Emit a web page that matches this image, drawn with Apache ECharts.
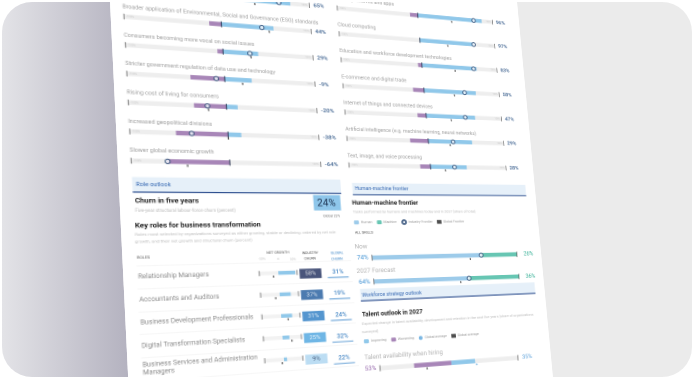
<!DOCTYPE html>
<html><head><meta charset="utf-8">
<script src="https://cdn.jsdelivr.net/npm/echarts@6/dist/echarts.min.js"></script>
<style>
html,body{margin:0;padding:0;background:#fff;width:694px;height:380px;overflow:hidden}
#card{position:absolute;left:2px;top:2px;width:690px;height:375px;border-radius:30px;overflow:hidden;
 background:linear-gradient(90deg,#e3e3e7 0px,#b1afbd 134px,#ebebeb 134px,#ebebeb 100%);}
#page{position:absolute;left:-2px;top:-2px;width:420px;height:420px;background:#fff;transform-origin:0 0;}
</style></head><body>
<div id="card"><div id="page"></div></div>
<script>
// ---------------- DATA ----------------
const trendLabels = ["Broadening digital access",
  "Broader application of Environmental, Social and Governance (ESG) standards",
  "Consumers becoming more vocal on social issues",
  "Stricter government regulation of data use and technology",
  "Rising cost of living for consumers",
  "Increased geopolitical divisions",
  "Slower global economic growth"];
const trendCreated   = [78, 57, 38, 29, 12, 14, 0];
const trendDisplaced = [8, 13, 6, 36, 34, 54, 65];
const trendNet       = [65, 44, 29, -9, -20, -38, -64];
const trendGlobal    = [38, 52, 30, 19, -19, 0, -44];

const techLabels = ["Digital platforms and apps",
  "Cloud computing",
  "Education and workforce development technologies",
  "E-commerce and digital trade",
  "Internet of things and connected devices",
  "Artificial intelligence (e.g. machine learning, neural networks)",
  "Text, image, and voice processing"];
const techAdoption  = [96, 97, 83, 58, 47, 29, 28];
const techCreated   = [85, 71, 72, 68, 64, 57, 47];
const techDisplaced = [10, 0, 5, 14, 11, 23, 13];
const techNet       = [74, 71, 68, 53, 51, 32, 31];
const techGlobal    = [44, 36, 43, 39, 32, 28, 19];

const roles = ["Relationship Managers", "Accountants and Auditors",
  "Business Development Professionals", "Digital Transformation Specialists",
  "Business Services and Administration Managers"];
const roleGrowth       = [45, 29, 29, 18, 8];
const roleGrowthGlobal = [-13, -11, 18, 24, -5];
const industryChurn    = [58, 37, 31, 25, 9];
const globalChurn      = [31, 19, 24, 32, 22];
const churnFiveYears = 24, churnGlobal = 23;

const hmCats     = ["Now", "2027 Forecast"];
const hmHuman    = [74, 64];
const hmMachine  = [26, 36];
const hmIndustry = [74, 64];
const hmGlobal   = [66, 58];

const talentCats       = ["Talent availability when hiring"];
const talentWorsening  = [53];
const talentImproving  = [35];
const talentGlobalWor  = [-35];
const talentGlobalImp  = [37];

// ---------------- PERSPECTIVE ----------------
const PW = 420, PH = 420;
const QUAD = [[108,-40],[517,2],[553,378],[130,415]];
function homography(W,H,q){
  const [x0,y0]=q[0],[x1,y1]=q[1],[x2,y2]=q[2],[x3,y3]=q[3];
  const sx=x0-x1+x2-x3, sy=y0-y1+y2-y3;
  const dx1=x1-x2, dx2=x3-x2, dy1=y1-y2, dy2=y3-y2;
  const det=dx1*dy2-dx2*dy1;
  const g=(sx*dy2-dx2*sy)/det, h=(dx1*sy-sx*dy1)/det;
  return {a:(x1-x0+g*x1)/W, b:(x3-x0+h*x3)/H, c:x0, d:(y1-y0+g*y1)/W, e:(y3-y0+h*y3)/H, f:y0, g:g/W, h:h/H};
}
const M = homography(PW,PH,QUAD);
const pageEl = document.getElementById('page');
pageEl.style.transform = `matrix3d(${M.a},${M.d},0,${M.g},${M.b},${M.e},0,${M.h},0,0,1,0,${M.c},${M.f},0,1)`;
function F(x,y){
  const A=M.a-M.g*x, B=M.b-M.h*x, C=M.d-M.g*y, D=M.e-M.h*y;
  const rx=x-M.c, ry=y-M.f, det=A*D-B*C;
  return [(rx*D-B*ry)/det, (A*ry-C*rx)/det];
}
function band(lA,rA,lB,rB,iA,iB){
  const LA=F(...lA), RA=F(...rA), LB=F(...lB), RB=F(...rB);
  const left=(LA[0]+LB[0])/2, right=(RA[0]+RB[0])/2;
  const yA=(LA[1]+RA[1])/2, yB=(LB[1]+RB[1])/2;
  const pitch=(yB-yA)/(iB-iA);
  return {left, right, pitch, top:yA-(iA+0.5)*pitch};
}

// ---------------- STYLE ----------------
const FONT = 'Roboto, "Liberation Sans", sans-serif';
const PURPLE='#a886b8', BLUE='#90c8ea', TRACK='#eeeeee', NAVY='#2c4a73';
const INVIS = {color:'rgba(0,0,0,0)'};

const grids=[], xAxes=[], yAxes=[], series=[], graphics=[];
function addGrid(g,n,xmin,xmax,cats,yExtra){
  const gi=grids.length;
  grids.push({left:g.left, top:g.top, width:g.right-g.left, height:n*g.pitch});
  xAxes.push({gridIndex:gi, type:'value', min:xmin, max:xmax, show:false});
  yAxes.push(Object.assign({gridIndex:gi, type:'category', data:cats, inverse:true, show:false}, yExtra||{}));
  return gi;
}
function S(o){ series.push(Object.assign({animation:false, silent:true}, o)); }
const labelAxis = (margin, extra) => ({show:true, axisLine:{show:false}, axisTick:{show:false}, splitLine:{show:false},
  axisLabel:Object.assign({align:'left', margin, fontFamily:FONT}, extra)});

function trendBlock(gi, names, created, displaced, net, glob, pct){
  const idx = names.map((_,i)=>i);
  const ax = {xAxisIndex:gi, yAxisIndex:gi};
  S({...ax, type:'bar', data:idx.map(()=>-100), barWidth:4.4, barGap:'-100%', itemStyle:{color:TRACK}});
  S({...ax, type:'bar', data:idx.map(()=>100), barWidth:4.4, barGap:'-100%', itemStyle:{color:TRACK}});
  S({...ax, type:'bar', data:displaced.map(v=>-v), barWidth:4.4, barGap:'-100%', itemStyle:{color:PURPLE}});
  S({...ax, type:'bar', data:created, barWidth:4.4, barGap:'-100%', itemStyle:{color:BLUE}});
  S({...ax, type:'scatter', symbol:'rect', symbolSize:[0.8,5.5], itemStyle:{color:'#555'},
     data:idx.flatMap(i=>[
       {value:[-100,i], label:{show:true, position:'right', distance:1.5, formatter:'-100%', fontSize:2.6, color:'#c4c4c4'}},
       {value:[100,i], label:{show:true, position:'left', distance:1.5, formatter:'100%', fontSize:2.6, color:'#c4c4c4'}}])});
  S({...ax, type:'scatter', symbol:'rect', symbolSize:[1,6], itemStyle:{color:'#1c2a45'}, data:idx.map(i=>[0,i])});
  S({...ax, type:'scatter', symbol:'rect', symbolSize:[1.1,2.2], symbolOffset:[0,3.8], itemStyle:{color:'#222'}, data:glob.map((v,i)=>[v,i])});
  S({...ax, type:'scatter', symbol:'circle', symbolSize:4.2, itemStyle:{color:'#f4f9fd', borderColor:NAVY, borderWidth:1.1}, data:net.map((v,i)=>[v,i])});
  S({...ax, type:'scatter', symbolSize:0.1, itemStyle:INVIS, data:idx.map(i=>[-100,i]),
     label:{show:true, position:'right', distance:0, offset:[-1,-9.5], formatter:p=>names[p.dataIndex], fontSize:5.3, color:'#858585', fontFamily:FONT}});
  S({...ax, type:'scatter', symbolSize:0.1, itemStyle:INVIS, data:idx.map(i=>[100,i]),
     label:{show:true, position:'right', distance:4, formatter:p=>pct[p.dataIndex]+'%', fontSize:5.8, fontWeight:'bold', color:'#2a5284', fontFamily:FONT}});
}

// Left: macrotrends
const gL = addGrid(band([124,16],[312,32],[131,160],[320,165],1,6), 7, -100, 100, trendLabels);
trendBlock(gL, trendLabels, trendCreated, trendDisplaced, trendNet, trendGlobal, trendNet);
// Right: technology
const gR = addGrid(band([340,34],[494,46],[348,163],[507,170],1,6), 7, -100, 100, techLabels);
trendBlock(gR, techLabels, techCreated, techDisplaced, techNet, techGlobal, techAdoption);

// Roles: net growth
const bG = band([259,274],[298,272],[265,361],[302,358],0,4);
// faint row separators of the roles table
const bSep = {left:F(137,277)[0], right:F(352,272)[0], pitch:bG.pitch, top:bG.top};
addGrid(bSep, 5, 0, 1, roles, {show:true, axisLine:{show:false}, axisTick:{show:false}, axisLabel:{show:false},
  splitLine:{show:true, interval:0, lineStyle:{color:'#efefef', width:0.6}}});
const gG = addGrid(bG, 5, -50, 50, roles,
  labelAxis(bG.left - F(138,277)[0], {fontSize:6, color:'#8c8c8c', width:110, overflow:'break', lineHeight:7}));
{
  const ax={xAxisIndex:gG, yAxisIndex:gG}, idx=roles.map((_,i)=>i);
  S({...ax, type:'bar', data:idx.map(()=>-50), barWidth:3.6, barGap:'-100%', itemStyle:{color:'#f2f2f2'}});
  S({...ax, type:'bar', data:idx.map(()=>50), barWidth:3.6, barGap:'-100%', itemStyle:{color:'#f2f2f2'}});
  S({...ax, type:'bar', data:roleGrowth, barWidth:3.6, barGap:'-100%', itemStyle:{color:BLUE}});
  S({...ax, type:'scatter', symbol:'rect', symbolSize:[0.8,5], itemStyle:{color:'#555'}, data:idx.flatMap(i=>[[-50,i],[50,i]])});
  S({...ax, type:'scatter', symbol:'rect', symbolSize:[1.2,1.8], symbolOffset:[0,3.4], itemStyle:{color:'#222'}, data:roleGrowthGlobal.map((v,i)=>[v,i])});
}
// Roles: industry churn boxes
const bC = band([299,273.5],[321,273.5],[306,359],[328,359],0,4);
const gC = addGrid(bC, 5, 0, 1, roles);
function churnColor(v){ return v>=50?'#1b2b5a': v>=35?'#1f5a9c': v>=28?'#2b7cc3': v>=20?'#4ba4de':'#abd5f0'; }
S({xAxisIndex:gC, yAxisIndex:gC, type:'scatter', symbol:'rect', symbolSize:[bC.right-bC.left, 9.5],
   data:industryChurn.map((v,i)=>({value:[0.5,i,v], itemStyle:{color:churnColor(v)},
     label:{show:true, position:'inside', formatter:v+'%', fontSize:5.8, color:v>=15?'#ffffff':'#1d3357', fontFamily:FONT}}))});
// Roles: global churn
const bGC = band([328,272],[349,272],[333,358],[354,358],0,4);
const gGC = addGrid(bGC, 5, 0, 1, roles);
S({xAxisIndex:gGC, yAxisIndex:gGC, type:'scatter', symbol:'rect', symbolSize:[bGC.right-bGC.left, 1.1], symbolOffset:[0,5.2],
   itemStyle:{color:'#4d91d0'}, data:globalChurn.map((v,i)=>[0.5,i])});
S({xAxisIndex:gGC, yAxisIndex:gGC, type:'scatter', symbolSize:0.1, itemStyle:INVIS, data:globalChurn.map((v,i)=>[0.5,i]),
   label:{show:true, position:'inside', formatter:p=>globalChurn[p.dataIndex]+'%', fontSize:6, fontWeight:'bold', color:'#3a7fc2', fontFamily:FONT}});

// Human-machine frontier
const bH = band([372,257],[516,255],[374,281],[520,277],0,1);
const gH = addGrid(bH, 2, 0, 100, hmCats,
  labelAxis(bH.left - F(357,257)[0], {fontSize:6.2, color:'#3b8fd3', formatter:(v,i)=>hmHuman[i]+'%'}));
{
  const ax={xAxisIndex:gH, yAxisIndex:gH};
  S({...ax, name:'Human', type:'bar', stack:'hm', data:hmHuman, barWidth:4.4, itemStyle:{color:'#9dcbea'}});
  S({...ax, name:'Machine', type:'bar', stack:'hm', data:hmMachine, barWidth:4.4, itemStyle:{color:'#67c6b3'},
     label:{show:true, position:'right', distance:8, formatter:p=>hmMachine[p.dataIndex]+'%', fontSize:6.2, color:'#35b096', fontFamily:FONT}});
  S({...ax, type:'scatter', symbol:'rect', symbolSize:[0.8,6], itemStyle:{color:'#444'}, data:hmCats.flatMap((c,i)=>[[0,i],[100,i]])});
  S({...ax, name:'Global Frontier', type:'scatter', symbol:'rect', symbolSize:[1.1,2.2], symbolOffset:[0,3.8], itemStyle:{color:'#222'}, data:hmGlobal.map((v,i)=>[v,i])});
  S({...ax, name:'Industry Frontier', type:'scatter', symbol:'circle', symbolSize:4.2, itemStyle:{color:'#f4f9fd', borderColor:NAVY, borderWidth:1.1}, data:hmIndustry.map((v,i)=>[v,i])});
  S({...ax, type:'scatter', symbolSize:0.1, itemStyle:INVIS, data:hmCats.map((c,i)=>[0,i]),
     label:{show:true, position:'right', distance:0, offset:[-17,-11], formatter:p=>hmCats[p.dataIndex], fontSize:6.3, color:'#a0a0a0', fontFamily:FONT}});
}
// Talent outlook
const tl = F(380,368), tr = F(518,358);
const bT = {left:tl[0], right:tr[0], pitch:10, top:(tl[1]+tr[1])/2-5};
const gT = addGrid(bT, 1, -100, 100, talentCats,
  labelAxis(bT.left - F(365,369)[0], {fontSize:6.2, color:'#9b6fb0', formatter:(v,i)=>talentWorsening[i]+'%'}));
{
  const ax={xAxisIndex:gT, yAxisIndex:gT}, idx=talentCats.map((_,i)=>i);
  S({...ax, type:'bar', data:idx.map(()=>-100), barWidth:4.4, barGap:'-100%', itemStyle:{color:TRACK}});
  S({...ax, type:'bar', data:idx.map(()=>100), barWidth:4.4, barGap:'-100%', itemStyle:{color:TRACK}});
  S({...ax, name:'Worsening', type:'bar', data:talentWorsening.map(v=>-v), barWidth:4.4, barGap:'-100%', itemStyle:{color:PURPLE}});
  S({...ax, name:'Improving', type:'bar', data:talentImproving, barWidth:4.4, barGap:'-100%', itemStyle:{color:BLUE}});
  S({...ax, type:'scatter', symbol:'rect', symbolSize:[0.8,6], itemStyle:{color:'#444'}, data:idx.flatMap(i=>[[-100,i],[100,i]])});
  S({...ax, name:'Global average', type:'scatter', symbol:'circle', symbolSize:1.8, symbolOffset:[0,3.6], itemStyle:{color:'#5aa5dc'}, data:talentGlobalImp.map((v,i)=>[v,i])});
  S({...ax, name:'Global average ', type:'scatter', symbol:'rect', symbolSize:[1.1,2.2], symbolOffset:[0,3.8], itemStyle:{color:'#222'}, data:talentGlobalWor.map((v,i)=>[v,i])});
  S({...ax, type:'scatter', symbolSize:0.1, itemStyle:INVIS, data:idx.map(i=>[-100,i]),
     label:{show:true, position:'right', distance:0, offset:[-15,-11], formatter:p=>talentCats[p.dataIndex], fontSize:6.3, color:'#a0a0a0', fontFamily:FONT}});
  S({...ax, type:'scatter', symbolSize:0.1, itemStyle:INVIS, data:idx.map(i=>[100,i]),
     label:{show:true, position:'right', distance:5, formatter:p=>talentImproving[p.dataIndex]+'%', fontSize:6.2, color:'#3b8fd3', fontFamily:FONT}});
}

// ---------------- STATIC TEXT / BANDS ----------------
function T(x,y,text,st){ const p=F(x,y); graphics.push({type:'text', x:p[0], y:p[1], silent:true,
  style:Object.assign({text, fontSize:5, fill:'#888', fontFamily:FONT, verticalAlign:'middle', align:'left'}, st||{})}); }
// rect from image top-left (x1,y1) to image right edge x2, with a height in page units
function R(x1,y1,x2,h,fill,dy){ const a=F(x1,y1), b=F(x2,y1); graphics.push({type:'rect', silent:true,
  shape:{x:a[0], y:a[1]+(dy||0), width:b[0]-a[0], height:h}, style:{fill}}); }
const BANDC='#e6f0f9', LINEC='#2e4f8f', HEADC='#3467b2';
// Role outlook
R(132,177,340,14,BANDC); R(132,177,340,1.1,LINEC,13.4);
T(136,184.5,'Role outlook',{fill:HEADC, fontSize:5.4});
T(135,201,'Churn in five years',{fill:'#1e1e1e', fontSize:6.6, fontWeight:'bold'});
T(135,211,'Five-year structural labour-force churn (percent)',{fill:'#b8b8b8', fontSize:4.2});
R(313,195,340,15.5,'#8ec6ea');
T(326.5,203.5,churnFiveYears+'%',{fill:'#1c3250', fontSize:10, align:'center'});
T(340,216,'Global '+churnGlobal+'%',{fill:'#777', fontSize:3.4, align:'right'});
T(135,226,'Key roles for business transformation',{fill:'#1e1e1e', fontSize:6.6, fontWeight:'bold'});
T(135,235,'Roles most selected by organizations surveyed as either growing, stable or declining, ordered by net role',{fill:'#bdbdbd', fontSize:4});
T(135,242,'growth, and their net growth and structural churn (percent)',{fill:'#bdbdbd', fontSize:4});
T(137,258,'ROLES',{fill:'#555', fontSize:3.6});
T(278,253,'NET GROWTH',{fill:'#555', fontSize:3.4, align:'center'});
T(262,259,'-50%',{fill:'#bbb', fontSize:3.1, align:'center'});
T(278,259,'0',{fill:'#bbb', fontSize:3.1, align:'center'});
T(293,259,'50%',{fill:'#bbb', fontSize:3.1, align:'center'});
T(310,253,'INDUSTRY',{fill:'#555', fontSize:3.4, align:'center'});
T(310,259,'CHURN',{fill:'#555', fontSize:3.4, align:'center'});
T(337,253,'GLOBAL',{fill:'#3c86c8', fontSize:3.4, align:'center'});
T(337,259,'CHURN',{fill:'#3c86c8', fontSize:3.4, align:'center'});
// Human-machine frontier
R(352,183,525,12,BANDC); R(352,183,525,1.1,LINEC,11.4);
T(355,188.5,'Human-machine frontier',{fill:HEADC, fontSize:5.2});
T(352,203,'Human-machine frontier',{fill:'#1e1e1e', fontSize:6.3, fontWeight:'bold'});
T(353,212,'Tasks performed by humans and machines today and in 2027 (share of total)',{fill:'#bdbdbd', fontSize:3.9});
T(355,233,'ALL SKILLS',{fill:'#444', fontSize:3.6});
// Workforce strategy outlook
R(360,289,535,12,BANDC); R(360,289,535,1.1,LINEC,11.4);
T(362,295.5,'Workforce strategy outlook',{fill:HEADC, fontSize:5.2});
T(362,315,'Talent outlook in 2027',{fill:'#1e1e1e', fontSize:6.3, fontWeight:'bold'});
T(362,324,'Expected change in talent availability, development and retention in the next five years (share of organizations',{fill:'#bdbdbd', fontSize:3.9});
T(362,332,'surveyed)',{fill:'#bdbdbd', fontSize:3.9});

const lp1 = F(354,222), lp2 = F(364,342);
const legendBase = {orient:'horizontal', itemWidth:5, itemHeight:4, itemGap:5, padding:0, selectedMode:false,
  textStyle:{fontSize:3.6, color:'#9a9a9a', fontFamily:FONT, padding:[0,0,0,-3]}};

const chart = echarts.init(pageEl, null, {renderer:'canvas', width:PW, height:PH, devicePixelRatio:2});
chart.setOption({
  animation:false,
  backgroundColor:'#ffffff',
  textStyle:{fontFamily:FONT},
  grid:grids, xAxis:xAxes, yAxis:yAxes, series:series,
  legend:[
    Object.assign({left:lp1[0], top:lp1[1]-2.5, data:['Human','Machine','Industry Frontier','Global Frontier']}, legendBase),
    Object.assign({left:lp2[0], top:lp2[1]-2.5, data:['Improving','Worsening','Global average','Global average ']}, legendBase)
  ],
  graphic:{elements:graphics}
});
</script>
</body></html>
